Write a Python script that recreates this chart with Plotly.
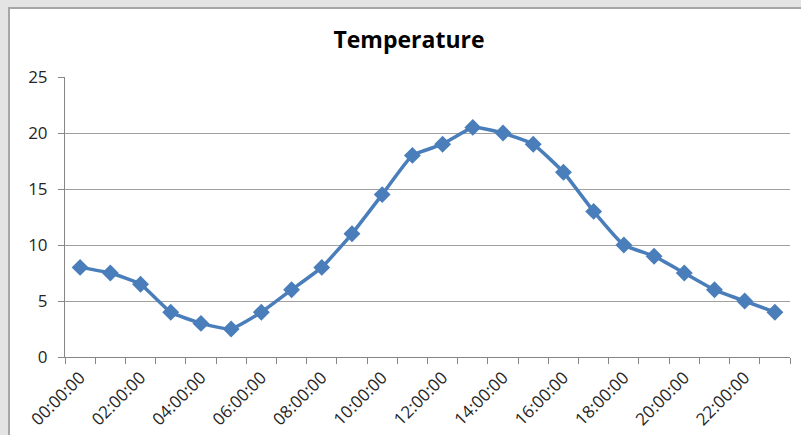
import plotly.graph_objects as go

hours = ["00:00:00", "01:00:00", "02:00:00", "03:00:00", "04:00:00", "05:00:00",
         "06:00:00", "07:00:00", "08:00:00", "09:00:00", "10:00:00", "11:00:00",
         "12:00:00", "13:00:00", "14:00:00", "15:00:00", "16:00:00", "17:00:00",
         "18:00:00", "19:00:00", "20:00:00", "21:00:00", "22:00:00", "23:00:00"]
temperature = [8, 7.5, 6.5, 4, 3, 2.5, 4, 6, 8, 11, 14.5, 18,
               19, 20.5, 20, 19, 16.5, 13, 10, 9, 7.5, 6, 5, 4]
tick_text = [h if i % 2 == 0 else "" for i, h in enumerate(hours)]
y_ticks = [0, 5, 10, 15, 20, 25]

W, H = 801, 435
L, R, T, B = 65, 11, 77, 78
pw, ph = W - L - R, H - T - B

fig = go.Figure()
fig.add_trace(go.Scatter(
    x=hours, y=temperature, mode="lines+markers",
    line=dict(color="#4a7ebb", width=3.5, shape="spline", smoothing=0.4),
    marker=dict(symbol="diamond", size=13, color="#4a7ebb"),
    showlegend=False,
))

fig.add_shape(type="rect", xref="paper", yref="paper",
              x0=(9 - L) / pw, x1=(W + 10 - L) / pw,
              y0=(H - B - (H + 10)) / ph, y1=(H - B - 8) / ph,
              fillcolor="white", line=dict(color="#a6a6a6", width=2), layer="below")

fig.update_layout(
    width=W, height=H,
    margin=dict(l=L, r=R, t=T, b=B, autoexpand=False),
    paper_bgcolor="#e4e4e4", plot_bgcolor="rgba(0,0,0,0)",
    font=dict(family="Open Sans", size=17, color="#262626"),
    title=dict(text="<b>Temperature</b>", xref="container", x=409 / W, xanchor="center",
               yref="container", y=1 - 40 / H, yanchor="middle",
               font=dict(family="Open Sans", size=23, color="#000000")),
    xaxis=dict(type="category", tickvals=hours, ticktext=tick_text, tickangle=-45,
               tickson="boundaries", ticks="outside", ticklen=6, tickcolor="#868686",
               showline=True, linecolor="#868686", linewidth=1, showgrid=False,
               range=[-0.5, 23.5], zeroline=False, automargin=False,
               ticklabelstandoff=3),
    yaxis=dict(range=[0, 25], tickvals=y_ticks, ticks="outside", ticklen=6,
               tickcolor="#868686", showline=True, linecolor="#868686", linewidth=1,
               showgrid=True, gridcolor="#a0a0a0", gridwidth=1, zeroline=False,
               ticklabelstandoff=7, automargin=False),
)

fig.write_html("out.html", config={"displayModeBar": False},
               post_script="document.body.style.margin='0';")
